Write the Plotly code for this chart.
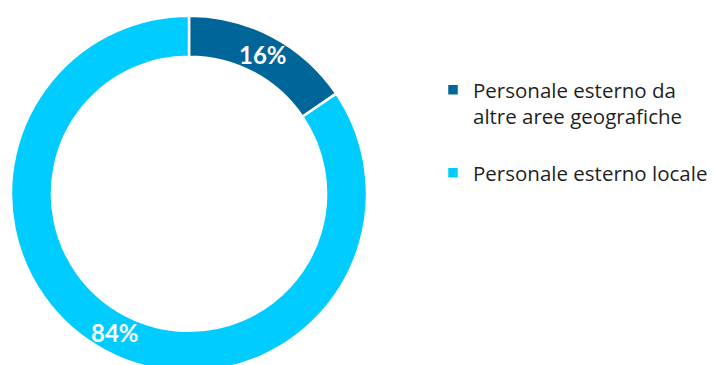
import math
import plotly.graph_objects as go

# Data
labels = ["Personale esterno da<br>altre aree geografiche<br> ", "Personale esterno locale"]
values = [15.5, 84.5]
slice_text = ["16%", "84%"]
colors = ["#006699", "#00CCFF"]

W, H = 714, 380
HOLE = 0.77
dom_x = [11 / W, 367 / W]
dom_y = [(H - 371.7) / H, (H - 15.7) / H]

fig = go.Figure(
    go.Pie(
        labels=labels,
        values=values,
        textinfo="none",
        hole=HOLE,
        sort=False,
        direction="clockwise",
        rotation=0,
        marker=dict(colors=colors, line=dict(color="white", width=2.5)),
        domain=dict(x=dom_x, y=dom_y),
        hoverinfo="label+percent",
    )
)

# slice labels at the middle of each slice, derived from the values and the pie domain
cx = (dom_x[0] + dom_x[1]) / 2 * W
cy = (1 - (dom_y[0] + dom_y[1]) / 2) * H
r_out = min((dom_x[1] - dom_x[0]) * W, (dom_y[1] - dom_y[0]) * H) / 2
r_mid = r_out * (1 + HOLE) / 2
total = sum(values)
cum = 0
for v, t in zip(values, slice_text):
    ang = math.radians((cum + v / 2) / total * 360)
    cum += v
    px = cx + r_mid * math.sin(ang)
    py = cy - r_mid * math.cos(ang)
    fig.add_annotation(
        x=px / W, y=1 - py / H, xref="paper", yref="paper",
        text=t, showarrow=False, xanchor="center", yanchor="middle",
        font=dict(family="Lato", size=24, color="white", weight="bold"),
    )

fig.update_layout(
    width=W,
    height=H,
    autosize=False,
    margin=dict(l=0, r=0, t=0, b=0, autoexpand=False),
    paper_bgcolor="white",
    plot_bgcolor="white",
    showlegend=True,
    legend=dict(
        x=433 / W,
        xanchor="left",
        y=(H - 70) / H,
        yanchor="top",
        valign="top",
        font=dict(family="Open Sans", size=20.5, color="#1f1f1f"),
        bgcolor="rgba(0,0,0,0)",
        traceorder="normal",
    ),
)

fig.write_html(
    "out.html",
    post_script="document.documentElement.style.overflow='hidden';document.body.style.overflow='hidden';",
)
